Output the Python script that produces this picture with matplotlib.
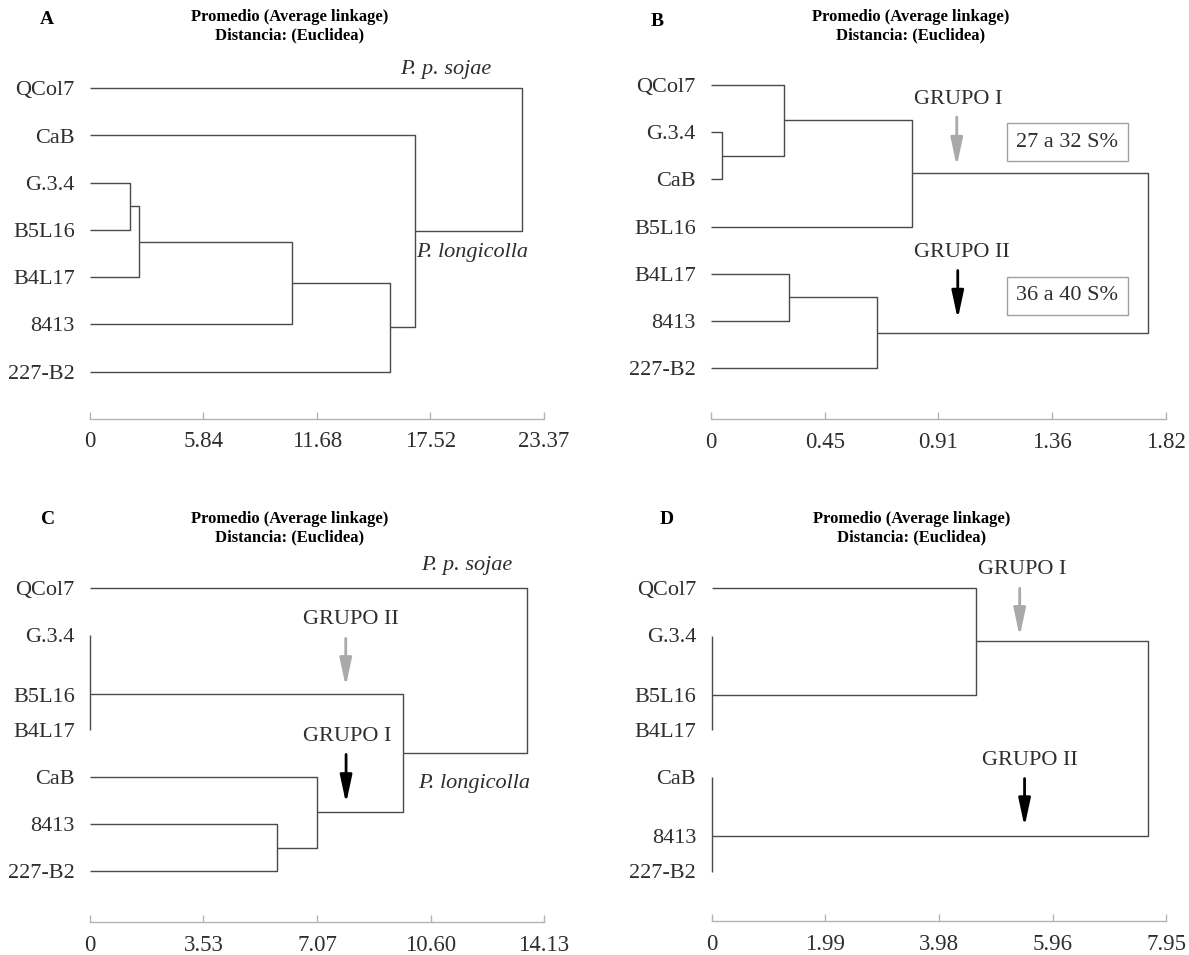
"""Four average-linkage dendrograms (A-D) with group annotations -> out.png"""

import matplotlib

matplotlib.use("Agg")
import matplotlib.pyplot as plt  # noqa: E402

plt.rcParams["font.family"] = ["Liberation Serif", "DejaVu Serif"]

W, H = 1189, 955
LINE = "#4a4a4a"
AXIS = "#b3b3b3"
TEXT = "#2e2e2e"
SPACING = 47.2  # px between leaves

# ---- data -----------------------------------------------------------------
# merges: (child, child, height); an int child is the index of an earlier merge
A_LEAVES = ["QCol7", "CaB", "G.3.4", "B5L16", "B4L17", "8413", "227-B2"]
A_MERGES = [("G.3.4", "B5L16", 2.07), (0, "B4L17", 2.50), (1, "8413", 10.38),
            (2, "227-B2", 15.42), ("CaB", 3, 16.73), ("QCol7", 4, 22.25)]
A_TICKS = [0, 5.84, 11.68, 17.52, 23.37]
A_TICKLABELS = ["0", "5.84", "11.68", "17.52", "23.37"]

B_LEAVES = ["QCol7", "G.3.4", "CaB", "B5L16", "B4L17", "8413", "227-B2"]
B_MERGES = [("G.3.4", "CaB", 0.042), ("QCol7", 0, 0.291), (1, "B5L16", 0.803),
            ("B4L17", "8413", 0.313), (3, "227-B2", 0.663), (2, 4, 1.748)]
B_TICKS = [0, 0.455, 0.91, 1.365, 1.82]
B_TICKLABELS = ["0", "0.45", "0.91", "1.36", "1.82"]

C_LEAVES = ["QCol7", "G.3.4", "B5L16", "B4L17", "CaB", "8413", "227-B2"]
C_MERGES = [("G.3.4", "B5L16", 0.0), (0, "B4L17", 0.0), ("8413", "227-B2", 5.82),
            ("CaB", 2, 7.07), (1, 3, 9.73), ("QCol7", 4, 13.59)]
C_TICKS = [0, 3.53, 7.07, 10.60, 14.13]
C_TICKLABELS = ["0", "3.53", "7.07", "10.60", "14.13"]

D_LEAVES = ["QCol7", "G.3.4", "B5L16", "B4L17", "CaB", "8413", "227-B2"]
D_MERGES = [("G.3.4", "B5L16", 0.0), (0, "B4L17", 0.0), ("CaB", "8413", 0.0),
            (2, "227-B2", 0.0), ("QCol7", 1, 4.62), (4, 3, 7.62)]
D_TICKS = [0, 1.99, 3.98, 5.96, 7.95]
D_TICKLABELS = ["0", "1.99", "3.98", "5.96", "7.95"]

TITLE1 = "Promedio (Average linkage)"
TITLE2 = "Distancia: (Euclidea)"

# ---- annotations (text, x, y-in-leaf-units, style) ---------------------------
A_NOTES = [("P. p. sojae", 18.31, -0.39, "italic"), ("P. longicolla", 19.69, 3.47, "italic")]
A_ARROWS = []
A_BOXES = []

B_NOTES = [("GRUPO I", 0.987, 0.30, "normal"), ("GRUPO II", 1.004, 3.54, "normal")]
B_ARROWS = [(0.983, 0.68, 1.72, "#a9a9a9"), (0.987, 3.93, 4.96, "black")]
B_BOXES = [("27 a 32 S%", 1.426, 1.21), ("36 a 40 S%", 1.426, 4.47)]

C_NOTES = [("P. p. sojae", 11.72, -0.49, "italic"), ("P. longicolla", 11.95, 4.13, "italic"),
           ("GRUPO II", 8.11, 0.67, "normal"), ("GRUPO I", 7.99, 3.13, "normal")]
C_ARROWS = [(7.96, 1.06, 2.08, "#a9a9a9"), (7.97, 3.52, 4.56, "black")]
C_BOXES = []

D_NOTES = [("GRUPO I", 5.42, -0.39, "normal"), ("GRUPO II", 5.56, 3.64, "normal")]
D_ARROWS = [(5.385, 0.0, 1.02, "#a9a9a9"), (5.47, 4.03, 5.05, "black")]
D_BOXES = []

# ---- layout in pixels: axis left/right, first leaf y, axis line y, letter --
PANELS = [
    ("A", A_LEAVES, A_MERGES, A_TICKS, A_TICKLABELS, A_NOTES, A_ARROWS, A_BOXES,
     dict(x0=90, x1=544, leaf0=88.3, axis=418.5, letter=(47, 20), title_y=17)),
    ("B", B_LEAVES, B_MERGES, B_TICKS, B_TICKLABELS, B_NOTES, B_ARROWS, B_BOXES,
     dict(x0=711, x1=1166, leaf0=85, axis=419, letter=(657, 21), title_y=17)),
    ("C", C_LEAVES, C_MERGES, C_TICKS, C_TICKLABELS, C_NOTES, C_ARROWS, C_BOXES,
     dict(x0=90, x1=544, leaf0=588.3, axis=922, letter=(48, 519), title_y=519)),
    ("D", D_LEAVES, D_MERGES, D_TICKS, D_TICKLABELS, D_NOTES, D_ARROWS, D_BOXES,
     dict(x0=711.5, x1=1166.5, leaf0=588.3, axis=921, letter=(667, 519), title_y=519)),
]


def draw_tree(ax, leaves, merges):
    pos = {name: i for i, name in enumerate(leaves)}
    nodes = []

    def get(c):
        if isinstance(c, int):
            return nodes[c]
        return (pos[c], 0.0, [c])

    def parent_height(k):
        parents = [m for m in merges if k in (m[0], m[1])]
        return parents[0][2] if parents else None

    label_y = dict(pos)
    for k, (a, b, h) in enumerate(merges):
        ya, ha, ma = get(a)
        yb, hb, mb = get(b)
        y, members = (ya + yb) / 2, ma + mb
        nodes.append((y, h, members))
        if h > 0:
            ax.plot([ha, h, h, hb], [ya, ya, yb, yb], color=LINE, lw=1.0,
                    solid_capstyle="butt", clip_on=False)
        elif parent_height(k):
            # top of a zero-distance cluster: one bar over all its leaves,
            # and the middle label sits on the outgoing line
            ys = [pos[m] for m in members]
            ax.plot([0, 0], [min(ys), max(ys)], color=LINE, lw=1.0,
                    solid_capstyle="butt", clip_on=False)
            closest = min(members, key=lambda m: abs(pos[m] - y))
            label_y[closest] = y
    return label_y


fig = plt.figure(figsize=(W / 100, H / 100), dpi=100)

for letter, leaves, merges, ticks, ticklabels, notes, arrows, boxes, g in PANELS:
    top_px = g["leaf0"] - 1.2 * SPACING
    ax = fig.add_axes([g["x0"] / W, 1 - g["axis"] / H,
                       (g["x1"] - g["x0"]) / W, (g["axis"] - top_px) / H])
    ax.set_xlim(0, ticks[-1])
    ax.set_ylim((g["axis"] - g["leaf0"]) / SPACING, -1.2)

    label_y = draw_tree(ax, leaves, merges)
    ax.set_yticks([label_y[n] for n in leaves])
    ax.set_yticklabels(leaves)
    ax.tick_params(axis="y", length=0, pad=11, labelsize=16, labelcolor=TEXT)

    ax.set_xticks(ticks)
    ax.set_xticklabels(ticklabels)
    ax.tick_params(axis="x", direction="in", length=5, width=1, color=AXIS,
                   labelsize=16.5, labelcolor=TEXT, pad=9)
    for side in ("top", "left", "right"):
        ax.spines[side].set_visible(False)
    ax.spines["bottom"].set_color(AXIS)
    ax.spines["bottom"].set_linewidth(1)

    for txt, x, y, style in notes:
        ax.text(x, y, txt, ha="center", va="center", fontsize=16, color=TEXT,
                style=style, clip_on=False)
    for x, y0, y1, col in arrows:
        ax.annotate("", xy=(x, y1), xytext=(x, y0),
                    arrowprops=dict(arrowstyle="-|>,head_length=1.4,head_width=0.3",
                                    color=col, lw=2, mutation_scale=12,
                                    shrinkA=0, shrinkB=0))
    for txt, x, y in boxes:
        ax.text(x, y, txt, ha="center", va="center", fontsize=16, color=TEXT,
                bbox=dict(boxstyle="square,pad=0.42", fc="white", ec="#a0a0a0", lw=1))

    # panel letter and two-line title
    lx, ly = g["letter"]
    fig.text(lx / W, 1 - ly / H, letter, ha="center", va="center",
             fontsize=14, fontweight="bold", color="black")
    tx = (g["x0"] + 200) / W
    fig.text(tx, 1 - g["title_y"] / H, TITLE1, ha="center", va="center",
             fontsize=12, fontweight="bold", color="black")
    fig.text(tx, 1 - (g["title_y"] + 18) / H, TITLE2, ha="center", va="center",
             fontsize=12, fontweight="bold", color="black")

fig.savefig("out.png", dpi=100, facecolor="white")
plt.close(fig)
